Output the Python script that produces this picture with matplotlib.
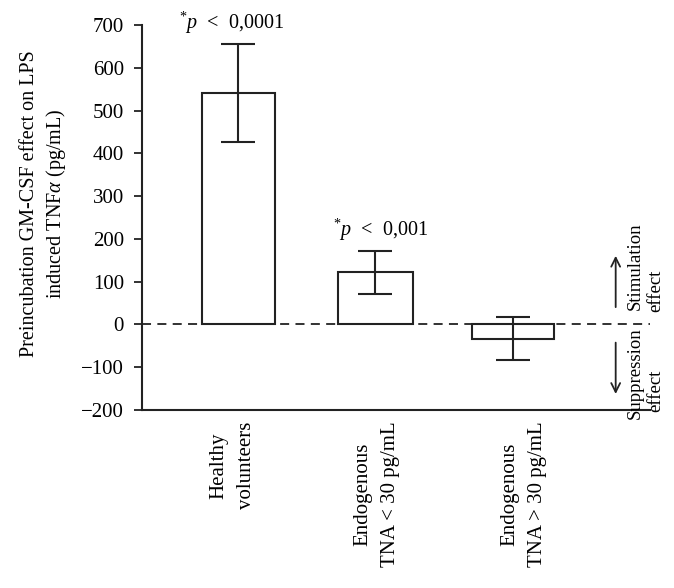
import matplotlib
matplotlib.use('Agg')
import matplotlib.pyplot as plt
import numpy as np

plt.rcParams['font.family'] = ['Liberation Serif', 'DejaVu Serif']
plt.rcParams['mathtext.fontset'] = 'custom'
plt.rcParams['mathtext.rm'] = 'Liberation Serif'
plt.rcParams['mathtext.it'] = 'Liberation Serif:italic'

# data
groups = ['Healthy\nvolunteers', 'Endogenous\nTNA < 30 pg/mL', 'Endogenous\nTNA > 30 pg/mL']
means = [541, 122, -33]
errs = [114, 50, 51]
pvals = [r'$^{*}\mathit{p}$ < 0,0001', r'$^{*}\mathit{p}$ < 0,001', None]
yticks = [-200, -100, 0, 100, 200, 300, 400, 500, 600, 700]

fig = plt.figure(figsize=(6.74, 5.88), dpi=100)
ax = fig.add_axes([0.2107, 0.3027, 0.7537, 0.6548])

x = np.arange(len(groups))
dark = '#222222'
serif = ['Liberation Serif', 'DejaVu Serif']
widths = [0.53, 0.545, 0.60]
ax.bar(x, means, width=widths, color='white', edgecolor=dark, linewidth=1.5, zorder=2)
ax.errorbar(x, means, yerr=errs, fmt='none', ecolor=dark, elinewidth=1.5,
            capsize=12, capthick=1.5, zorder=3)
ax.axhline(0, color=dark, linestyle=(0, (5, 3.5)), linewidth=1.3, zorder=4)

p_shift = [-6, 5]
for xi, m, e, p, dx in zip(x, means, errs, pvals, p_shift):
    if p:
        ax.annotate(p.replace(' < ', '  <  '), (xi, m + e), xytext=(dx * 0.72, 6),
                    textcoords='offset points', ha='center', va='bottom', fontsize=14.5)

ax.set_xlim(-0.7, 3.0)
ax.set_ylim(-200, 700)
ax.set_yticks(yticks)
ax.set_yticklabels([str(t).replace('-', '\u2212') for t in yticks], fontsize=15,
                   fontfamily=serif)
ax.tick_params(axis='y', direction='out', length=6, width=1.3, pad=7, color=dark)
ax.set_xticks([])
for s in ['top', 'right']:
    ax.spines[s].set_visible(False)
for s in ['left', 'bottom']:
    ax.spines[s].set_linewidth(1.5)
    ax.spines[s].set_color(dark)

ax.set_ylabel('Preincubation GM-CSF effect on LPS\ninduced TNF$\\mathit{\\alpha}$ (pg/mL)',
              fontsize=14.5, linespacing=1.3, fontfamily=serif)
ax.yaxis.set_label_coords(-0.145, 0.535)

lab_shift = [-0.04, 0.01, 0.08]
for xi, g, dx in zip(x, groups, lab_shift):
    ax.text(xi + dx, -0.03, g, transform=ax.get_xaxis_transform(), rotation=90,
            ha='center', va='top', multialignment='center', fontsize=15,
            linespacing=1.6, fontfamily=serif)

# stimulation / suppression arrows
arrow = dict(arrowstyle='->', color=dark, lw=1.3, mutation_scale=16)
ax.annotate('', xy=(2.75, 167), xytext=(2.75, 34), arrowprops=arrow, annotation_clip=False)
ax.annotate('', xy=(2.75, -169), xytext=(2.75, -36), arrowprops=arrow, annotation_clip=False)
ax.text(2.89, 137, 'Stimulation', rotation=90, ha='center', va='center', fontsize=13.5, clip_on=False)
ax.text(3.04, 78, 'effect', rotation=90, ha='center', va='center', fontsize=13.5, clip_on=False)
ax.text(2.89, -114, 'Suppression', rotation=90, ha='center', va='center', fontsize=13.5, clip_on=False)
ax.text(3.04, -155, 'effect', rotation=90, ha='center', va='center', fontsize=13.5, clip_on=False)

fig.savefig('out.png', dpi=100)
